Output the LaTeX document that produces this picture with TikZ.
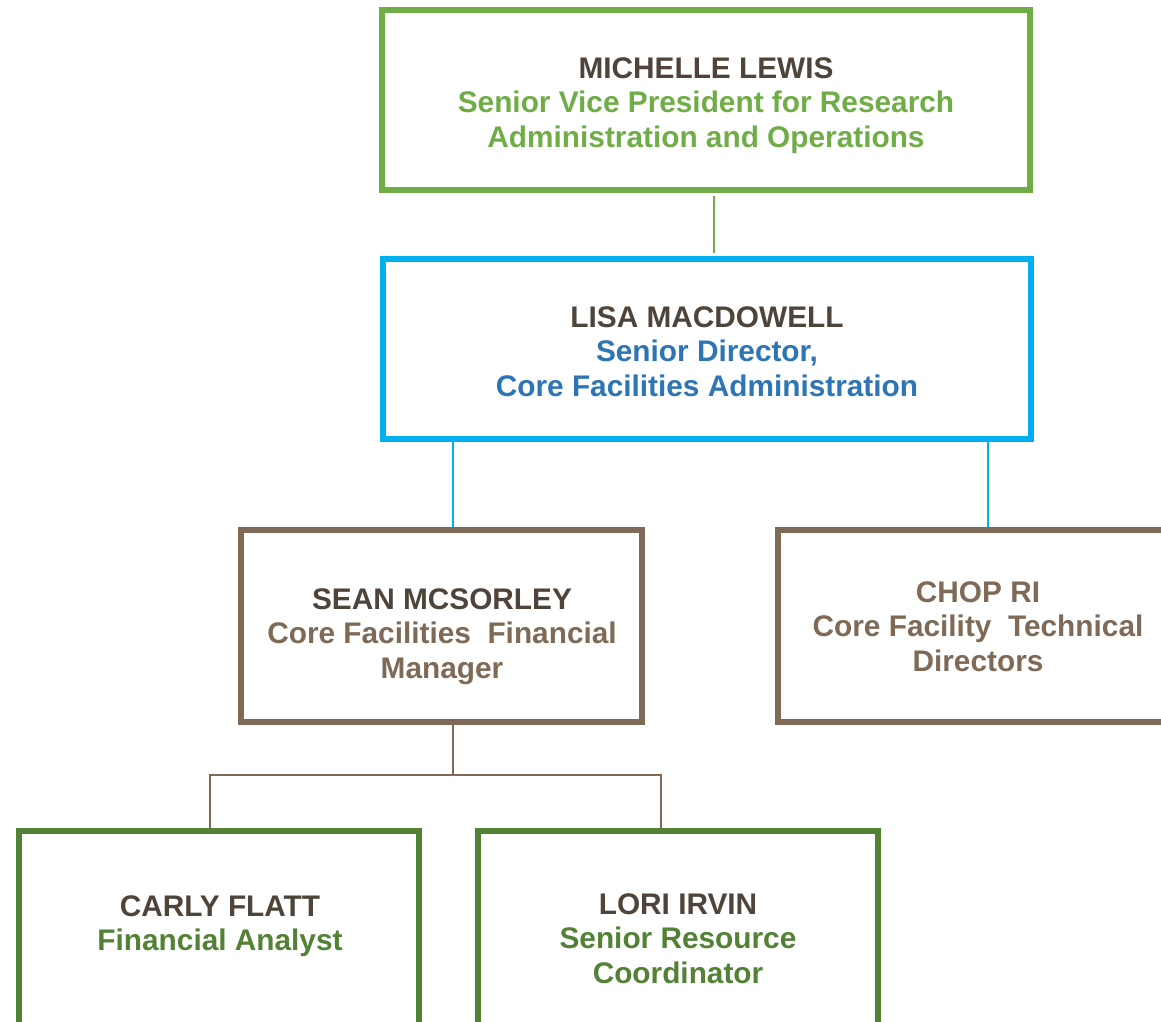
\documentclass[tikz,border=0pt]{standalone}
\usepackage{fontspec}
\setmainfont{Liberation Sans}
\definecolor{gbox}{HTML}{70AD47}
\definecolor{bbox}{HTML}{00B0F0}
\definecolor{btxt}{HTML}{2E75B6}
\definecolor{brbox}{HTML}{7F6A57}
\definecolor{namec}{HTML}{4F4439}
\definecolor{dgreen}{HTML}{538135}
\begin{document}
\begin{tikzpicture}[x=1pt,y=-1pt,
  orgbox/.style={draw, line width=6pt, rectangle, inner sep=0pt, fill=white},
  orgtext/.style={anchor=north, align=center, inner sep=0pt,
    font=\fontsize{29.8}{34.8}\selectfont\bfseries},
  link/.style={line width=2.8pt}]
\clip (0,0) rectangle (1161,1021);
\fill[white] (0,0) rectangle (1161,1021);
% boxes
\node[orgbox, draw=gbox, minimum width=648pt, minimum height=180pt] (mich) at (706,100) {};
\node[orgbox, draw=bbox, minimum width=648pt, minimum height=180pt] (lisa) at (707,349) {};
\node[orgbox, draw=brbox, minimum width=401pt, minimum height=192pt] (sean) at (441.5,626) {};
\node[orgbox, draw=brbox, minimum width=400pt, minimum height=192pt] (chop) at (978,626) {};
\node[orgbox, draw=dgreen, minimum width=400pt, minimum height=230pt] (carly) at (219,946) {};
\node[orgbox, draw=dgreen, minimum width=400pt, minimum height=230pt] (lori) at (678,946) {};
% texts
\node[orgtext] (michT) at (706,57) {\textcolor{namec}{MICHELLE LEWIS}\\\textcolor{gbox}{Senior Vice President for Research}\\\textcolor{gbox}{Administration and Operations}};
\node[orgtext] (lisaT) at (707,306) {\textcolor{namec}{LISA MACDOWELL}\\\textcolor{btxt}{Senior Director,}\\\textcolor{btxt}{Core Facilities Administration}};
\node[orgtext] (seanT) at (442,588) {\textcolor{namec}{SEAN MCSORLEY}\\\textcolor{brbox}{Core Facilities\ \ Financial}\\\textcolor{brbox}{Manager}};
\node[orgtext] (chopT) at (978,581) {\textcolor{brbox}{CHOP RI}\\\textcolor{brbox}{Core Facility\ \ Technical}\\\textcolor{brbox}{Directors}};
\node[orgtext] (carlyT) at (220,895) {\textcolor{namec}{CARLY FLATT}\\\textcolor{dgreen}{Financial Analyst}};
\node[orgtext] (loriT) at (678,893) {\textcolor{namec}{LORI IRVIN}\\\textcolor{dgreen}{Senior Resource}\\\textcolor{dgreen}{Coordinator}};
% connectors
\draw[link, draw=gbox] ([xshift=8pt,yshift=-3pt]mich.south) -- ([xshift=7pt,yshift=3pt]lisa.north);
\draw[link, draw=bbox] ([xshift=11.5pt]sean.north) -- ([xshift=11.5pt]sean.north |- lisa.south);
\draw[link, draw=bbox] ([xshift=10pt]chop.north) -- ([xshift=10pt]chop.north |- lisa.south);
\draw[link, draw=brbox] ([xshift=11.5pt]sean.south) -- ++(0,50) coordinate (bus);
\draw[link, draw=brbox] ([xshift=-9pt]carly.north) |- (bus) -| ([xshift=-17pt]lori.north);
\end{tikzpicture}
\end{document}
